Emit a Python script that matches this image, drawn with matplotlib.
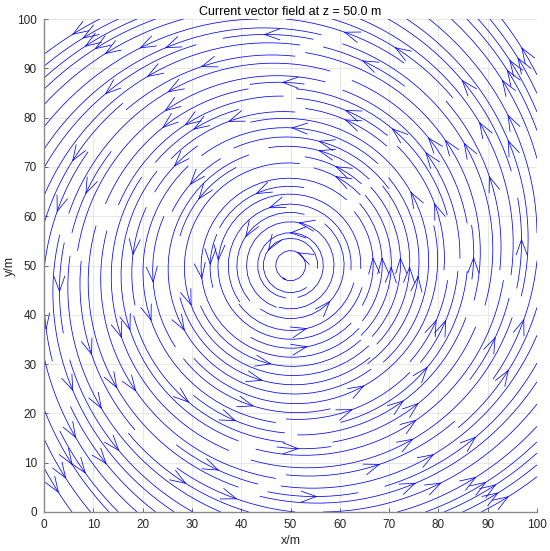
import numpy as np
import matplotlib
matplotlib.use("Agg")
import matplotlib.pyplot as plt

# Grid of the current field
x_vals = np.linspace(0, 100, 101)
y_vals = np.linspace(0, 100, 101)
center_x = 50.0
center_y = 50.0
swirl_rate = 1.0        # counter-clockwise rotation
radial_rate = 0.12      # weak outward spiral at the edges
depth_label = 50.0

X, Y = np.meshgrid(x_vals, y_vals)
dx = X - center_x
dy = Y - center_y
r_norm = np.hypot(dx, dy) / 50.0
U = -swirl_rate * dy + radial_rate * r_norm**2 * dx
V = swirl_rate * dx + radial_rate * r_norm**2 * dy

plt.rcParams['font.family'] = ['Liberation Sans', 'DejaVu Sans']
fig = plt.figure(figsize=(5.5, 5.51), dpi=100)
ax = fig.add_axes([44/550, 39/551, 493/550, 493/551])

ax.streamplot(x_vals, y_vals, U, V, density=1.8, color='blue', linewidth=0.55,
              arrowstyle='->,head_length=0.55,head_width=0.2', arrowsize=2.0,
              maxlength=1.3)

ax.set_xlim(0, 100)
ax.set_ylim(0, 100)
ax.set_xticks(np.arange(0, 101, 10))
ax.set_yticks(np.arange(0, 101, 10))
ax.grid(True, color='#e3e3e3', linewidth=0.6)
ax.set_axisbelow(True)
for s in ['top', 'right']:
    ax.spines[s].set_visible(False)
for s in ['left', 'bottom']:
    ax.spines[s].set_color('#8a8a8a')
    ax.spines[s].set_linewidth(1.0)
ax.tick_params(direction='in', length=3, width=0.6, color='#555555',
               labelsize=8.5, labelcolor='#262626', pad=5)
ax.set_xlabel('x/m', fontsize=9, color='#262626', labelpad=3)
ax.set_ylabel('y/m', fontsize=9, color='#262626', labelpad=1)
ax.set_title(f'Current vector field at z = {depth_label:.1f} m', fontsize=9,
             color='black', pad=3)

fig.savefig('out.png', dpi=100)
